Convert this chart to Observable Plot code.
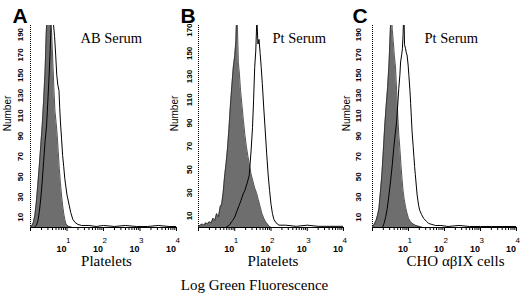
<!DOCTYPE html>
<html><head><meta charset="utf-8">
<script src="https://cdn.jsdelivr.net/npm/d3@7"></script>
<script src="https://cdn.jsdelivr.net/npm/@observablehq/plot@0.6"></script>
<style>
body{margin:0;background:#fff;}
#chart{position:relative;width:520px;height:294px;overflow:hidden;background:#fff;}
</style></head><body><div id="chart"></div>
<script>
// ---- tick labels & texts ----
const xTickExponents = [1, 2, 3, 4];
const yTicksAC = [10, 30, 50, 70, 90, 110, 130, 150, 170, 190];
const yTicksB = [10, 30, 50, 70, 90, 110, 130, 150, 170];
const panelLetters = ["A", "B", "C"];
const serumLabels = ["AB Serum", "Pt Serum", "Pt Serum"];
const cellLabels = ["Platelets", "Platelets", "CHO \u03b1\u03b2IX cells"];
const yTitle = "Number";
const axisTitle = "Log Green Fluorescence";

// ---- histograms: x in log10 decades, y = number of events ----
const aGrayLog = [0, 0.04, 0.08, 0.12, 0.16, 0.20, 0.24, 0.28, 0.32, 0.36, 0.40, 0.43, 0.46, 0.49, 0.52, 0.55, 0.58, 0.61, 0.64, 0.67, 0.70, 0.73, 0.76, 0.79, 0.82, 0.85, 0.88, 0.91, 0.94, 0.97, 1.00, 1.05, 1.15, 4.00];
const aGrayCount = [0, 2, 5, 12, 25, 42, 60, 80, 100, 125, 155, 190, 215, 205, 220, 200, 192, 165, 138, 115, 104, 92, 75, 58, 44, 32, 22, 14, 8, 4, 2, 1, 0, 0];
const aWhiteLog = [0, 0.10, 0.16, 0.20, 0.24, 0.28, 0.32, 0.36, 0.40, 0.44, 0.48, 0.51, 0.54, 0.57, 0.60, 0.63, 0.66, 0.69, 0.72, 0.75, 0.78, 0.80, 0.82, 0.85, 0.88, 0.91, 0.94, 0.97, 1.00, 1.03, 1.06, 1.10, 1.16, 1.22, 1.30, 1.40, 1.60, 1.80, 2.00, 2.30, 2.60, 2.90, 3.20, 3.50, 3.80, 4.00];
const aWhiteCount = [0, 0, 2, 6, 15, 28, 45, 65, 85, 100, 128, 150, 175, 205, 215, 200, 188, 170, 150, 140, 135, 118, 104, 88, 71, 60, 48, 40, 32, 27, 22, 15, 8, 5, 3, 2, 2, 1, 2, 1, 2, 1, 1, 2, 1, 1];

const bGrayLog = [0, 0.05, 0.10, 0.15, 0.20, 0.25, 0.30, 0.35, 0.40, 0.45, 0.50, 0.55, 0.60, 0.64, 0.68, 0.72, 0.76, 0.80, 0.84, 0.88, 0.92, 0.96, 1.00, 1.03, 1.06, 1.08, 1.10, 1.13, 1.16, 1.20, 1.24, 1.28, 1.32, 1.36, 1.40, 1.45, 1.50, 1.55, 1.60, 1.65, 1.70, 1.75, 1.80, 1.85, 1.90, 1.95, 2.00, 4.00];
const bGrayCount = [1, 2, 3, 2, 4, 3, 5, 4, 8, 6, 12, 9, 18, 20, 30, 44, 55, 68, 85, 105, 122, 138, 148, 160, 190, 165, 142, 132, 118, 105, 92, 80, 70, 62, 55, 46, 40, 34, 30, 24, 18, 12, 8, 5, 3, 1, 0, 0];
const bWhiteLog = [0, 0.75, 0.85, 0.94, 1.00, 1.07, 1.12, 1.17, 1.22, 1.28, 1.34, 1.40, 1.45, 1.49, 1.52, 1.55, 1.58, 1.61, 1.64, 1.67, 1.70, 1.73, 1.76, 1.80, 1.84, 1.88, 1.92, 1.96, 2.00, 2.04, 2.08, 2.14, 2.22, 2.40, 2.70, 3.00, 3.30, 3.60, 4.00];
const bWhiteCount = [0, 0, 2, 6, 9, 15, 19, 23, 28, 32, 38, 45, 66, 86, 110, 138, 152, 180, 158, 162, 150, 138, 124, 103, 84, 64, 46, 32, 20, 12, 7, 4, 2, 2, 1, 2, 1, 1, 1];

const cGrayLog = [0, 0.03, 0.06, 0.10, 0.14, 0.18, 0.22, 0.26, 0.30, 0.34, 0.38, 0.42, 0.46, 0.49, 0.52, 0.55, 0.58, 0.61, 0.64, 0.67, 0.70, 0.73, 0.76, 0.79, 0.82, 0.85, 0.88, 0.92, 0.96, 1.00, 1.05, 1.10, 1.20, 1.30, 1.40, 4.00];
const cGrayCount = [0, 2, 4, 7, 12, 19, 35, 52, 75, 100, 120, 138, 162, 190, 215, 195, 182, 168, 158, 135, 112, 92, 78, 62, 48, 36, 28, 20, 14, 9, 6, 4, 2, 1, 0, 0];
const cWhiteLog = [0, 0.25, 0.29, 0.33, 0.37, 0.41, 0.45, 0.50, 0.55, 0.59, 0.63, 0.67, 0.70, 0.73, 0.76, 0.78, 0.81, 0.83, 0.85, 0.87, 0.89, 0.92, 0.94, 0.96, 0.99, 1.01, 1.04, 1.06, 1.08, 1.10, 1.13, 1.15, 1.17, 1.19, 1.22, 1.24, 1.28, 1.31, 1.36, 1.42, 1.50, 1.56, 1.65, 1.75, 1.90, 2.10, 2.40, 2.70, 3.00, 3.30, 3.60, 4.00];
const cWhiteCount = [0, 0, 1, 5, 11, 19, 30, 45, 62, 78, 92, 104, 120, 137, 150, 163, 170, 176, 190, 215, 180, 176, 172, 170, 160, 150, 135, 122, 108, 94, 80, 70, 60, 52, 40, 32, 22, 17, 13, 9, 6, 4, 3, 2, 2, 1, 2, 1, 1, 1, 1, 1];

// ---- build ----
const SANS = "'Liberation Sans', Arial, sans-serif";
const SERIF = "'Liberation Serif', 'Times New Roman', serif";
const minorTicks = [];
for (let k = 0; k < 4; k++) for (let m = 2; m <= 9; m++) minorTicks.push(k + Math.log10(m));
const rows = (L, V) => L.map((l, i) => ({l, v: V[i]}));

const panels = [
  {i: 0, left: 30, right: 344, yMax: 199, yTicks: yTicksAC, gray: rows(aGrayLog, aGrayCount), white: rows(aWhiteLog, aWhiteCount), yPad: 10, numDx: -23, serumDx: 50, cellsDx: 3, letterDx: -18},
  {i: 1, left: 198, right: 177, yMax: 174, yTicks: yTicksB, gray: rows(bGrayLog, bGrayCount), white: rows(bWhiteLog, bWhiteCount), yPad: 9, numDx: -24, serumDx: 74, cellsDx: 2, letterDx: -18},
  {i: 2, left: 372, right: 4, yMax: 199, yTicks: yTicksAC, gray: rows(cGrayLog, cGrayCount), white: rows(cWhiteLog, cWhiteCount), yPad: 14, numDx: -26, serumDx: 52, cellsDx: 11, letterDx: -20}
];

const chart = document.getElementById("chart");
for (const p of panels) {
  const marks = [
    Plot.areaY(p.gray, {x: "l", y: "v", fill: "#6e6e6e", clip: true}),
    Plot.lineY(p.gray, {x: "l", y: "v", stroke: "#2a2a2a", strokeWidth: 0.8, clip: true}),
    Plot.lineY(p.white, {x: "l", y: "v", stroke: "#000", strokeWidth: 1, clip: true}),
    Plot.ruleY([0], {stroke: "#000", strokeWidth: 1.2}),
    Plot.ruleX([0], {stroke: "#000", strokeDasharray: "1,1"}),
    Plot.axisX({ticks: minorTicks, tickSize: 3, tickFormat: () => "", label: null}),
    Plot.axisX({ticks: [0, ...xTickExponents], tickSize: 4, tickFormat: () => "", label: null}),
    Plot.text(xTickExponents, {x: d => d, text: () => "10", frameAnchor: "bottom", textAnchor: "end", lineAnchor: "bottom", dy: 24, dx: -0.5, fontSize: 9, fontWeight: "bold", fontFamily: SANS}),
    Plot.text(xTickExponents, {x: d => d, text: d => String(d), frameAnchor: "bottom", textAnchor: "start", lineAnchor: "bottom", dy: 15.5, dx: -1, fontSize: 8, fontFamily: SANS}),
    Plot.axisY({ticks: p.yTicks, tickSize: 0, tickPadding: p.yPad, tickRotate: -90, textAnchor: "middle", lineAnchor: "middle", fontSize: 8, fontWeight: "bold", fontFamily: SANS, label: null}),
    Plot.text([yTitle], {text: d => d, frameAnchor: "left", rotate: -90, dx: p.numDx, dy: -13, textAnchor: "middle", lineAnchor: "middle", fontSize: 10, fontFamily: SANS}),
    Plot.text([serumLabels[p.i]], {text: d => d, frameAnchor: "top-left", dx: p.serumDx, dy: 17, textAnchor: "start", lineAnchor: "bottom", fontSize: 14.5, fontFamily: SERIF}),
    Plot.text([cellLabels[p.i]], {text: d => d, frameAnchor: "bottom", dx: p.cellsDx, dy: 38, textAnchor: "middle", lineAnchor: "bottom", fontSize: 15, fontFamily: SERIF}),
    Plot.text([panelLetters[p.i]], {text: d => d, frameAnchor: "top-left", dx: p.letterDx, dy: -3, textAnchor: "start", lineAnchor: "bottom", fontSize: 21, fontWeight: "bold", fontFamily: SANS})
  ];
  if (p.i === 1) {
    marks.push(Plot.text([axisTitle], {text: d => d, frameAnchor: "bottom", dx: -16.5, dy: 62, textAnchor: "middle", lineAnchor: "bottom", fontSize: 15, fontFamily: SERIF}));
  }
  const svg = Plot.plot({
    width: 520, height: 294,
    marginLeft: p.left, marginRight: p.right, marginTop: 25, marginBottom: 67,
    style: "position:absolute;left:0;top:0;background:transparent;overflow:visible;",
    x: {domain: [0, 4]},
    y: {domain: [0, p.yMax]},
    marks
  });
  chart.appendChild(svg);
}
</script></body></html>
